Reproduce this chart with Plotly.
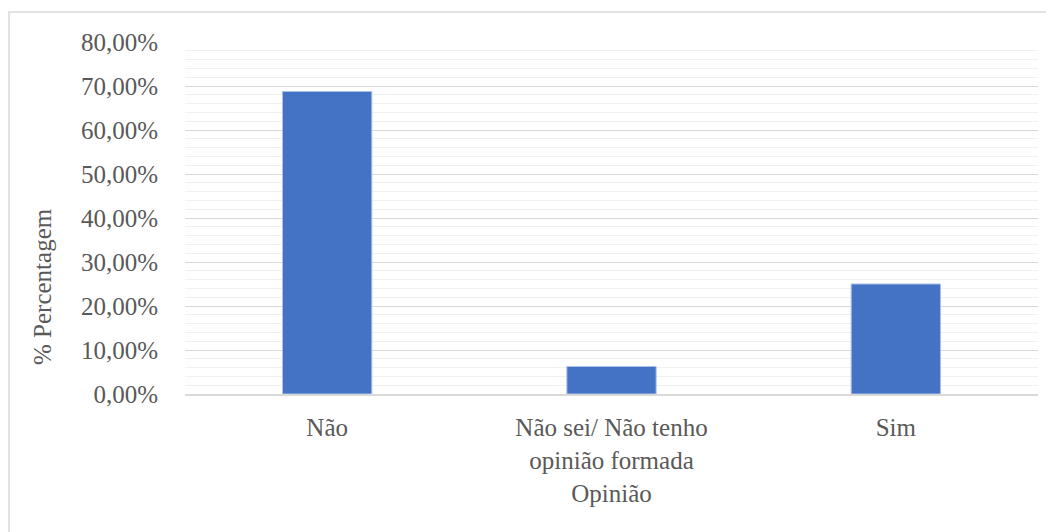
import plotly.graph_objects as go

categories = ["Não", "Não sei/ Não tenho<br>opinião formada", "Sim"]
values = [0.6875, 0.0625, 0.25]
y_ticks = [0, 0.1, 0.2, 0.3, 0.4, 0.5, 0.6, 0.7, 0.8]

# the page body adds an 8px offset; size the figure to fit the window
OFF = 8
W, H = 1054 - OFF, 532 - OFF
L, R, T, B = 185 - OFF, 1054 - 1038, 42 - OFF, 532 - 394
pw, ph = W - L - R, H - T - B

fig = go.Figure(go.Bar(
    x=categories, y=values,
    marker=dict(color="#4472c4", line=dict(color="#a9bfe8", width=1)),
))

font_family = "Liberation Serif, Times New Roman, serif"
txt = "#595959"
fs = 25

fig.update_layout(
    width=W, height=H,
    margin=dict(l=L, r=R, t=T, b=B),
    paper_bgcolor="white", plot_bgcolor="white",
    separators=",.",
    bargap=0.686,
    showlegend=False,
    font=dict(family=font_family, color=txt, size=fs),
    xaxis=dict(
        title=dict(text="Opinião", font=dict(size=fs, color=txt), standoff=12),
        tickfont=dict(size=fs, color=txt),
        showline=True, linecolor="#d9d9d9", linewidth=2,
        ticks="outside", ticklen=10, tickcolor="rgba(0,0,0,0)",
    ),
    yaxis=dict(
        range=[0, 0.8], tickvals=y_ticks, tickformat=".2%",
        tickfont=dict(size=fs, color=txt),
        showgrid=True, gridcolor="#d9d9d9", gridwidth=1,
        minor=dict(dtick=0.02, showgrid=True, gridcolor="#f0f0f0", gridwidth=1),
        ticks="outside", ticklen=21, tickcolor="rgba(0,0,0,0)",
        zeroline=False,
    ),
)

# y-axis title (placed lower than centre, as in the reference)
fig.add_annotation(
    text="% Percentagem", textangle=-90, showarrow=False,
    xref="paper", yref="paper",
    x=(42 - OFF - L) / pw, y=(394 - 287) / ph,
    xanchor="center", yanchor="middle",
    font=dict(size=fs, color=txt, family=font_family),
)

# outer chart border (cropped at right/bottom in reference)
fig.add_shape(
    type="rect", xref="paper", yref="paper",
    x0=(1 - L) / pw, x1=(W + 10 - L) / pw,
    y0=(H - B - (H + 10)) / ph, y1=(H - B - 4) / ph,
    line=dict(color="#d9d9d9", width=1.5), fillcolor="rgba(0,0,0,0)",
    layer="below",
)

fig.write_html("out.html")
